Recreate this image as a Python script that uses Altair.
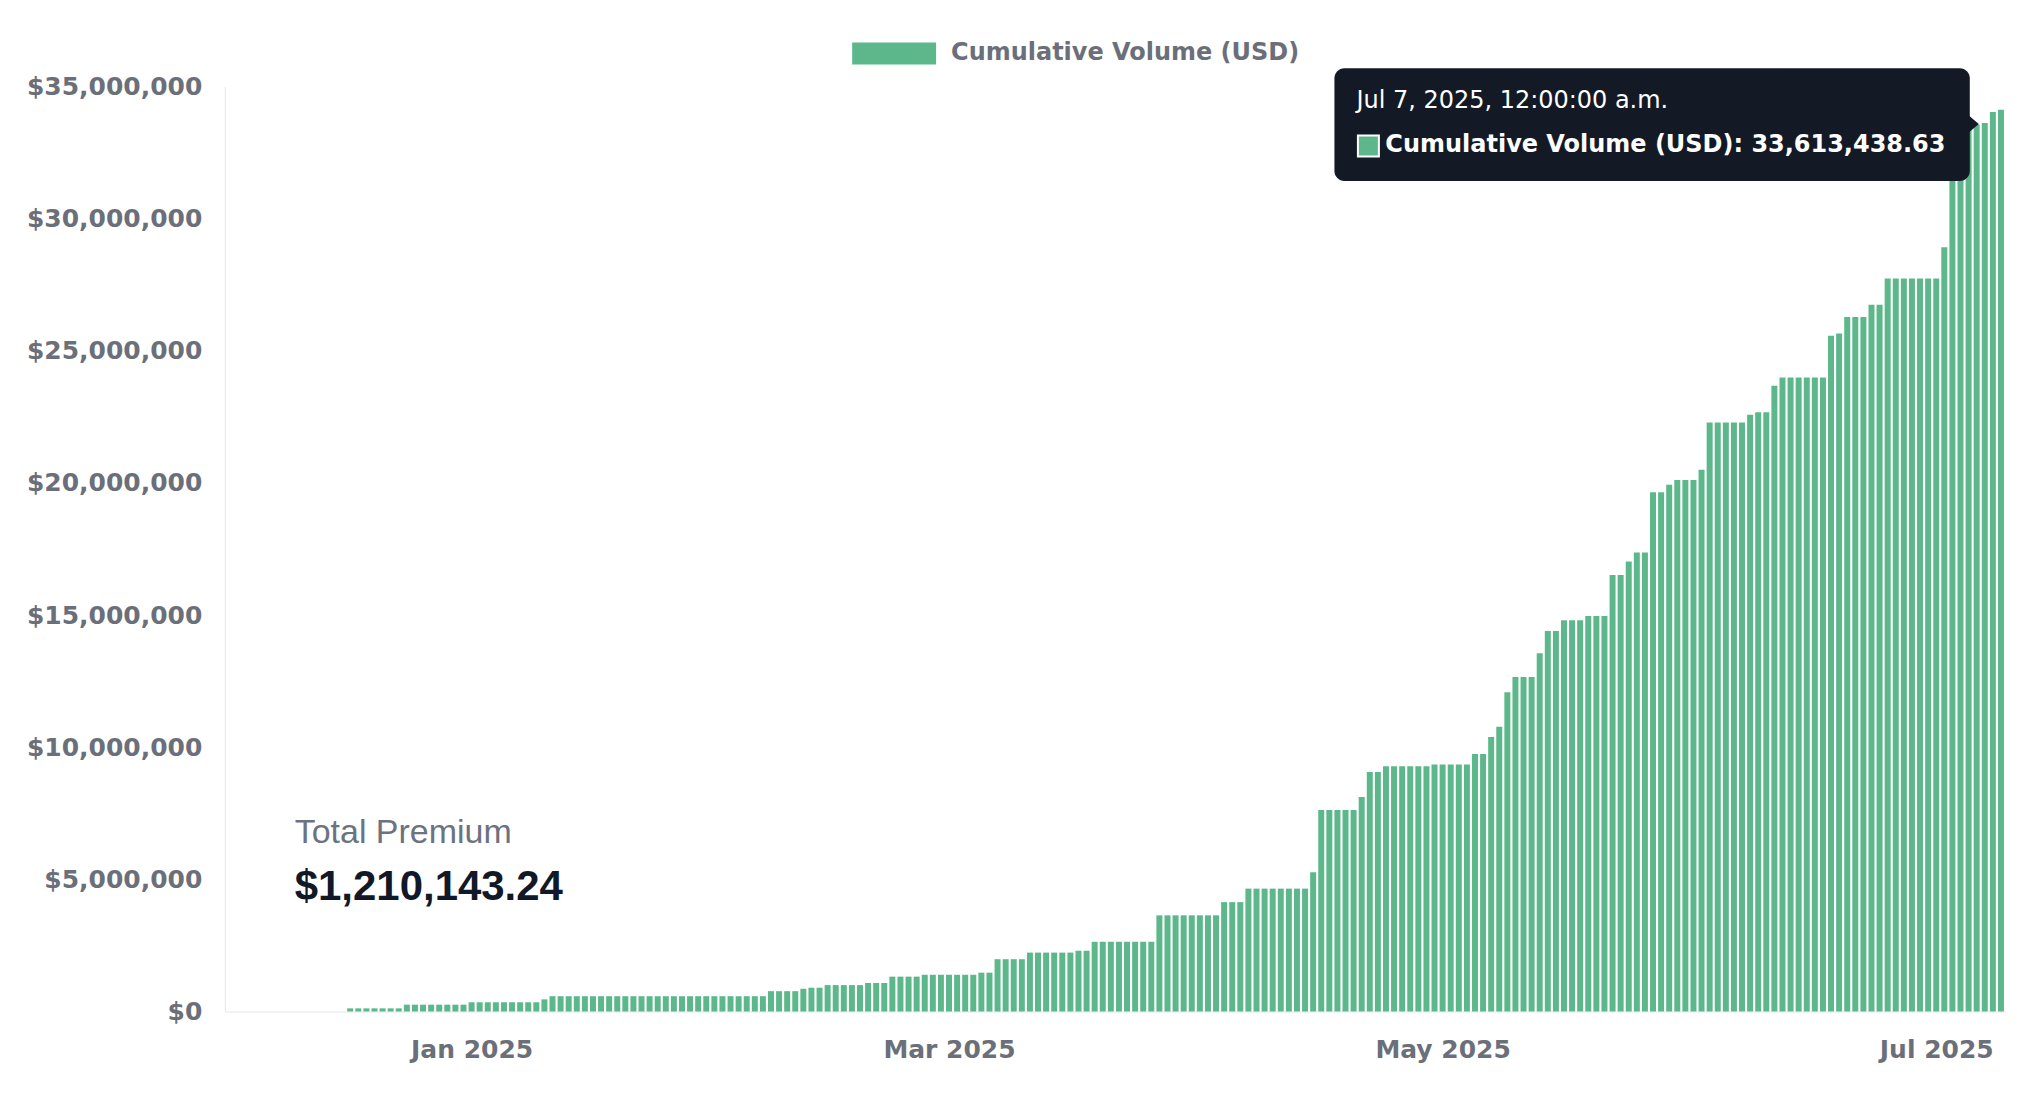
import altair as alt
import pandas as pd

series_name = "Cumulative Volume (USD)"

# Daily cumulative volume (USD)
dec_values = [0, 0, 0, 0, 0, 0, 0, 0, 0, 0, 0, 0, 0, 0, 0,
              120000, 120000, 120000, 120000, 120000, 120000, 120000,
              260000, 260000, 260000, 260000, 260000, 260000, 260000, 260000]
jan_values = [350000, 350000, 350000, 350000, 350000, 350000, 350000, 350000, 350000,
              460000,
              580000, 580000, 580000, 580000, 580000, 580000, 580000, 580000, 580000, 580000,
              580000, 580000, 580000, 580000, 580000, 580000, 580000, 580000, 580000, 580000,
              580000]
feb_values = [580000, 580000, 580000, 580000, 580000, 580000,
              770000, 770000, 770000, 770000,
              860000, 900000, 900000,
              1000000, 1000000, 1000000, 1000000, 1000000,
              1080000, 1080000, 1080000,
              1320000, 1320000, 1320000, 1320000,
              1390000, 1390000, 1390000]
mar_values = [1390000, 1390000, 1390000, 1390000,
              1470000, 1470000,
              1980000, 1980000, 1980000, 1980000,
              2230000, 2230000, 2230000, 2230000, 2230000, 2230000,
              2300000, 2300000,
              2640000, 2640000, 2640000, 2640000, 2640000, 2640000, 2640000, 2640000,
              3640000, 3640000, 3640000, 3640000, 3640000]
apr_values = [3640000, 3640000, 3640000,
              4140000, 4140000, 4140000,
              4650000, 4650000, 4650000, 4650000, 4650000, 4650000, 4650000, 4650000,
              5270000,
              7620000, 7620000, 7620000, 7620000, 7620000,
              8120000,
              9060000, 9060000,
              9280000, 9280000, 9280000, 9280000, 9280000, 9280000,
              9350000]
may_values = [9350000, 9350000, 9350000, 9350000,
              9740000, 9740000,
              10390000, 10770000, 12080000,
              12660000, 12660000, 12660000,
              13560000,
              14400000, 14400000,
              14800000, 14800000, 14800000,
              14960000, 14960000, 14960000,
              16520000, 16520000,
              17030000,
              17370000, 17370000,
              19650000, 19650000,
              19930000,
              20110000, 20110000]
jun_values = [20110000, 20500000,
              22290000, 22290000, 22290000, 22290000, 22290000,
              22580000,
              22670000, 22670000,
              23680000,
              23990000, 23990000, 23990000, 23990000, 23990000, 23990000,
              25570000, 25650000,
              26280000, 26280000, 26280000,
              26740000, 26740000,
              27730000, 27730000, 27730000, 27730000, 27730000, 27730000]
jul_values = [27730000, 28920000, 32400000, 33000000, 33450000, 33560000,
              33613438.63, 34030000, 34120000]

month_starts = ["2024-12-02", "2025-01-01", "2025-02-01", "2025-03-01",
                "2025-04-01", "2025-05-01", "2025-06-01", "2025-07-01"]
month_values = [dec_values, jan_values, feb_values, mar_values,
                apr_values, may_values, jun_values, jul_values]

rows = []
for start, vals in zip(month_starts, month_values):
    days = pd.date_range(start, periods=len(vals), freq="D")
    for d, v in zip(days, vals):
        rows.append({"date": d.strftime("%Y-%m-%dT00:00:00"), "value": v,
                     "series": series_name})
df = pd.DataFrame(rows)

y_ticks = [0, 5000000, 10000000, 15000000, 20000000, 25000000, 30000000, 35000000]
x_ticks = [alt.DateTime(year=2025, month=1, date=1),
           alt.DateTime(year=2025, month=3, date=1),
           alt.DateTime(year=2025, month=5, date=1),
           alt.DateTime(year=2025, month=7, date=1)]

# hovered point shown in the screenshot's tooltip
tip_df = pd.DataFrame({
    "date": ["2025-07-07T00:00:00"],
    "value": [33613438.63],
    "line1": ["Jul 7, 2025, 12:00:00 a.m."],
    "line2": ["Cumulative Volume (USD): 33,613,438.63"],
})
card_df = pd.DataFrame({"label": ["Total Premium"], "amount": ["$1,210,143.24"]})

BAR = "#5cb88a"
GREY = "#6b6f7a"
TIP_BG = "#131a26"
W, H = 1782, 926

x_scale = alt.Scale(domain=[alt.DateTime(year=2024, month=12, date=1, hours=12),
                            alt.DateTime(year=2025, month=7, date=9, hours=12)],
                    nice=False, padding=0)
y_scale = alt.Scale(domain=[0, 35000000], nice=False)

x_enc = alt.X("date:T", scale=x_scale, title=None,
              axis=alt.Axis(values=x_ticks, format="%b %Y", labelFont="DejaVu Sans",
                            labelFontWeight="bold", labelFontSize=25, labelColor=GREY,
                            ticks=False, tickSize=0, labelPadding=26, grid=False,
                            domainColor="#e5e7eb", labelFlush=False, labelOverlap=False))
y_enc = alt.Y("value:Q", scale=y_scale, title=None,
              axis=alt.Axis(values=y_ticks, format="$,.0f", labelFont="DejaVu Sans",
                            labelFontWeight="bold", labelFontSize=25, labelColor=GREY,
                            ticks=False, tickSize=0, labelPadding=23, grid=False,
                            domainColor="#e5e7eb", labelFlush=False, labelOverlap=False))

bars = alt.Chart(df).mark_bar(size=6).encode(
    x=x_enc,
    y=y_enc,
    color=alt.Color("series:N",
                    scale=alt.Scale(domain=[series_name], range=[BAR]),
                    legend=alt.Legend(title=None, orient="none", legendX=627, legendY=-45,
                                      symbolType="M-1,-1H6.636V1H-1Z", symbolSize=484,
                                      symbolStrokeWidth=0, labelFont="DejaVu Sans",
                                      labelFontWeight="bold", labelFontSize=24,
                                      labelColor=GREY, labelOffset=76, labelLimit=800,
                                      padding=0)),
)

tip_box = alt.Chart(tip_df).mark_rect(
    color=TIP_BG, cornerRadius=10, opacity=1,
    xOffset=-651, x2Offset=-15, yOffset=-55, y2Offset=58,
).encode(x="date:T", x2="date:T", y="value:Q", y2="value:Q")

tip_arrow = alt.Chart(tip_df).mark_point(
    shape="M0,-0.85L1,0L0,0.85Z", size=400, filled=True, color=TIP_BG,
    opacity=1, strokeWidth=0, xOffset=-16, yOffset=1,
).encode(x="date:T", y="value:Q")

tip_line1 = alt.Chart(tip_df).mark_text(
    align="left", baseline="middle", dx=-629, dy=-22,
    font="DejaVu Sans", fontSize=24, color="white",
).encode(x="date:T", y="value:Q", text="line1:N")

tip_swatch = alt.Chart(tip_df).mark_point(
    shape="square", size=441, filled=True, fill=BAR, stroke="white",
    strokeWidth=2, opacity=1, xOffset=-617, yOffset=23,
).encode(x="date:T", y="value:Q")

tip_line2 = alt.Chart(tip_df).mark_text(
    align="left", baseline="middle", dx=-600, dy=22,
    font="DejaVu Sans", fontWeight="bold", fontSize=24, color="white",
).encode(x="date:T", y="value:Q", text="line2:N")

card_label = alt.Chart(card_df).mark_text(
    align="left", baseline="alphabetic", font="Liberation Sans", fontSize=34,
    color="#6b7280",
).encode(x=alt.value(70), y=alt.value(757), text="label:N")

card_amount = alt.Chart(card_df).mark_text(
    align="left", baseline="alphabetic", font="Liberation Sans", fontSize=42,
    fontWeight="bold", color="#111827",
).encode(x=alt.value(70), y=alt.value(814), text="amount:N")

chart = alt.layer(
    bars, card_label, card_amount, tip_box, tip_arrow, tip_line1, tip_swatch, tip_line2
).properties(
    width=W, height=H,
    padding={"left": 18, "top": 33, "right": 5, "bottom": 5},
    background="white",
).configure_view(strokeWidth=0)

chart.save("out.html", embed_options={"renderer": "svg", "actions": False})
